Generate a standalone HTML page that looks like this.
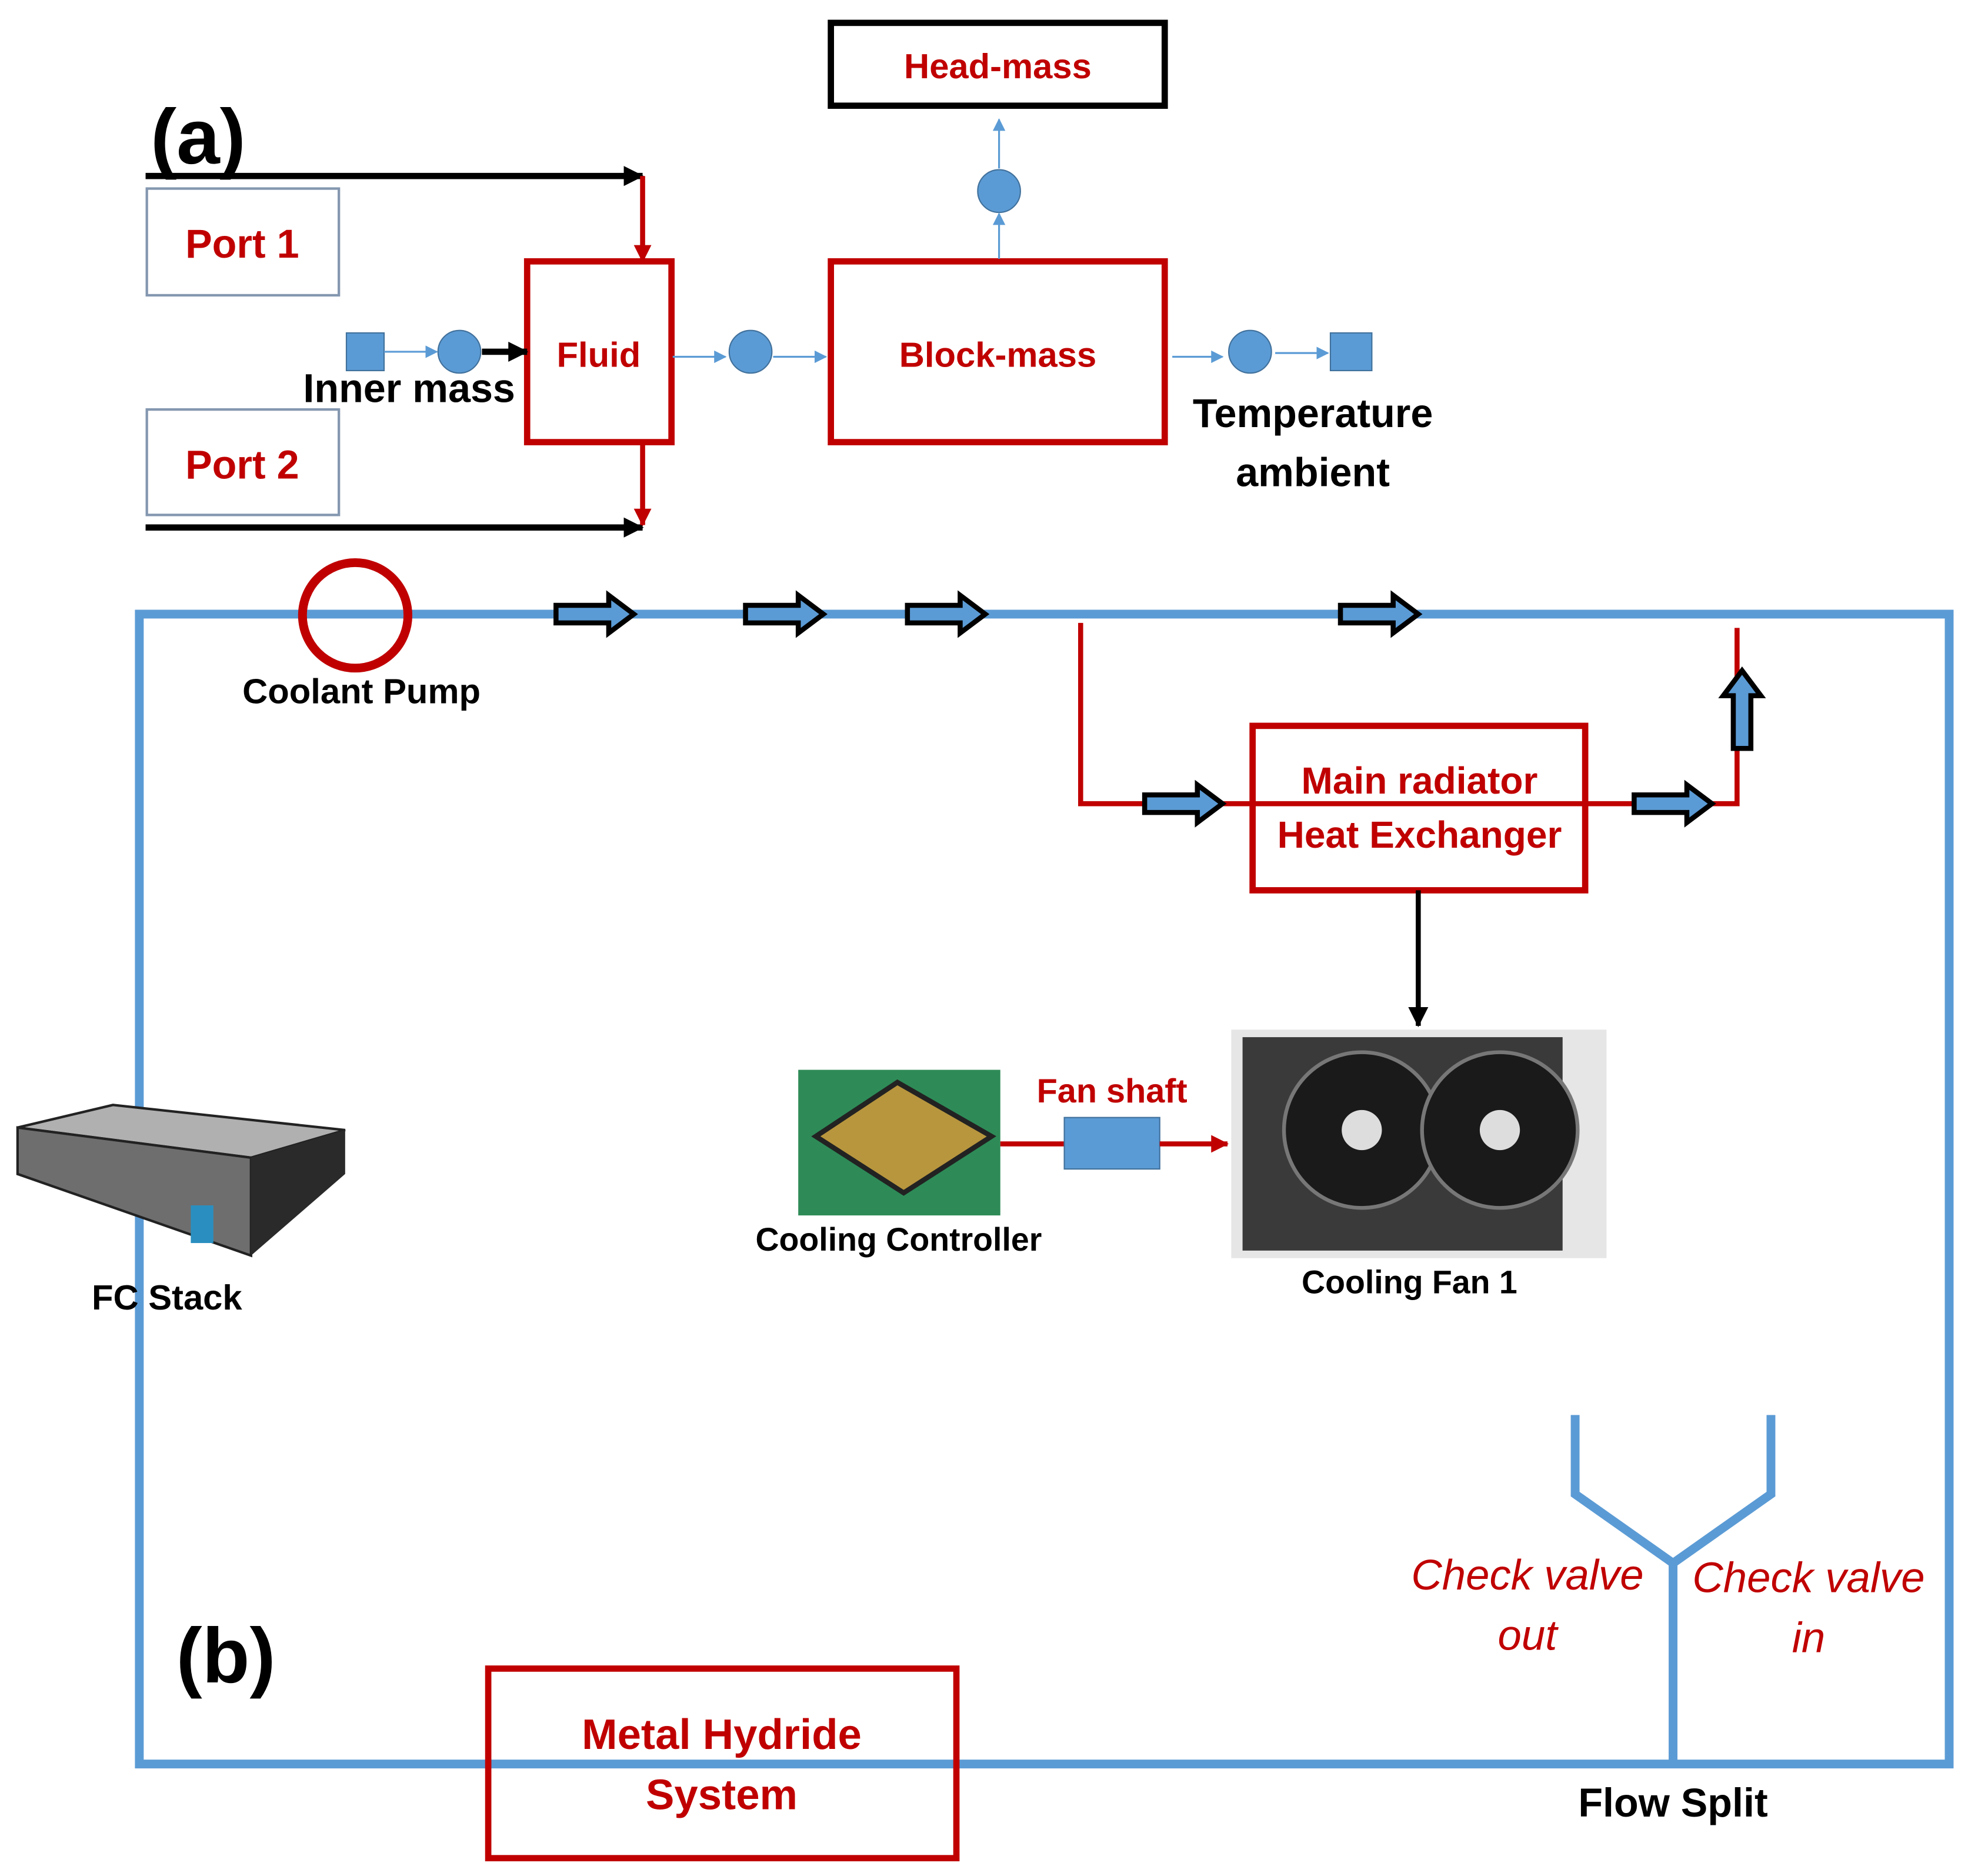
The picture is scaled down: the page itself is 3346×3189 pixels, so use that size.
<!DOCTYPE html>
<html><head><meta charset="utf-8"><style>html,body{margin:0;padding:0;background:#fff}svg{display:block}</style></head>
<body>
<svg xmlns="http://www.w3.org/2000/svg" width="3346" height="3189" viewBox="0 0 1568 1494" font-family="Liberation Sans, sans-serif">
<defs>
<marker id="ar" markerWidth="14" markerHeight="14" refX="13" refY="7" orient="auto" markerUnits="userSpaceOnUse"><path d="M0,0 L14,7 L0,14 z" fill="#c00000"/></marker>
<marker id="al" markerWidth="10" markerHeight="10" refX="9" refY="5" orient="auto" markerUnits="userSpaceOnUse"><path d="M0,0 L10,5 L0,10 z" fill="#5b9bd5"/></marker>
<marker id="ak" markerWidth="16" markerHeight="16" refX="15" refY="8" orient="auto" markerUnits="userSpaceOnUse"><path d="M0,0 L16,8 L0,16 z" fill="#000"/></marker>
<g id="barrow"><path d="M0,-7 L42,-7 L42,-15 L62,0 L42,15 L42,7 L0,7 z" fill="#5b9bd5" stroke="#000" stroke-width="4" stroke-linejoin="miter"/></g>
</defs>
<rect width="1568" height="1494" fill="#fff"/>
<rect x="662" y="18" width="266" height="66" fill="none" stroke="#000" stroke-width="5"/>
<text x="795" y="62" text-anchor="middle" font-size="28" font-weight="bold" fill="#c00000">Head-mass</text>
<text x="120" y="130" font-size="62" font-weight="bold">(a)</text>
<line x1="116" y1="140" x2="512" y2="140" stroke="#000" stroke-width="5" marker-end="url(#ak)"/>
<line x1="512" y1="140" x2="512" y2="208" stroke="#c00000" stroke-width="4" marker-end="url(#ar)"/>
<rect x="117" y="150" width="153" height="85" fill="none" stroke="#8497b0" stroke-width="2"/>
<text x="193" y="205" text-anchor="middle" font-size="32" font-weight="bold" fill="#c00000">Port 1</text>
<rect x="117" y="326" width="153" height="84" fill="none" stroke="#8497b0" stroke-width="2"/>
<text x="193" y="381" text-anchor="middle" font-size="32" font-weight="bold" fill="#c00000">Port 2</text>
<line x1="116" y1="420" x2="512" y2="420" stroke="#000" stroke-width="5" marker-end="url(#ak)"/>
<line x1="512" y1="352" x2="512" y2="418" stroke="#c00000" stroke-width="4" marker-end="url(#ar)"/>
<rect x="420" y="208" width="115" height="144" fill="none" stroke="#c00000" stroke-width="5"/>
<text x="477" y="292" text-anchor="middle" font-size="28" font-weight="bold" fill="#c00000">Fluid</text>
<rect x="276" y="265" width="30" height="30" fill="#5b9bd5" stroke="#41719c"/>
<line x1="306" y1="280" x2="348" y2="280" stroke="#5b9bd5" stroke-width="1.5" marker-end="url(#al)"/>
<circle cx="366" cy="280" r="17" fill="#5b9bd5" stroke="#41719c"/>
<line x1="384" y1="280" x2="420" y2="280" stroke="#000" stroke-width="5" marker-end="url(#ak)"/>
<text x="326" y="320" text-anchor="middle" font-size="32" font-weight="bold">Inner mass</text>
<line x1="536" y1="284" x2="578" y2="284" stroke="#5b9bd5" stroke-width="1.5" marker-end="url(#al)"/>
<circle cx="598" cy="280" r="17" fill="#5b9bd5" stroke="#41719c"/>
<line x1="616" y1="284" x2="658" y2="284" stroke="#5b9bd5" stroke-width="1.5" marker-end="url(#al)"/>
<rect x="662" y="208" width="266" height="144" fill="none" stroke="#c00000" stroke-width="5"/>
<text x="795" y="292" text-anchor="middle" font-size="28" font-weight="bold" fill="#c00000">Block-mass</text>
<circle cx="796" cy="152" r="17" fill="#5b9bd5" stroke="#41719c"/>
<line x1="796" y1="206" x2="796" y2="170" stroke="#5b9bd5" stroke-width="1.5" marker-end="url(#al)"/>
<line x1="796" y1="134" x2="796" y2="95" stroke="#5b9bd5" stroke-width="1.5" marker-end="url(#al)"/>
<line x1="934" y1="284" x2="974" y2="284" stroke="#5b9bd5" stroke-width="1.5" marker-end="url(#al)"/>
<circle cx="996" cy="280" r="17" fill="#5b9bd5" stroke="#41719c"/>
<line x1="1016" y1="281" x2="1058" y2="281" stroke="#5b9bd5" stroke-width="1.5" marker-end="url(#al)"/>
<rect x="1060" y="265" width="33" height="30" fill="#5b9bd5" stroke="#41719c"/>
<text x="1046" y="340" text-anchor="middle" font-size="32" font-weight="bold">Temperature</text>
<text x="1046" y="387" text-anchor="middle" font-size="32" font-weight="bold">ambient</text>
<rect x="111" y="489" width="1442" height="916" fill="none" stroke="#5b9bd5" stroke-width="7"/>
<circle cx="283" cy="490" r="42" fill="none" stroke="#c00000" stroke-width="7"/>
<text x="288" y="560" text-anchor="middle" font-size="28" font-weight="bold">Coolant Pump</text>
<use href="#barrow" x="443" y="489"/>
<use href="#barrow" x="594" y="489"/>
<use href="#barrow" x="723" y="489"/>
<use href="#barrow" x="1068" y="489"/>
<polyline points="861,496 861,640 998,640" fill="none" stroke="#c00000" stroke-width="4"/>
<use href="#barrow" x="912" y="640"/>
<rect x="998" y="578" width="265" height="131" fill="none" stroke="#c00000" stroke-width="5"/>
<line x1="998" y1="640" x2="1263" y2="640" stroke="#c00000" stroke-width="4"/>
<text x="1131" y="632" text-anchor="middle" font-size="30" font-weight="bold" fill="#c00000">Main radiator</text>
<text x="1131" y="675" text-anchor="middle" font-size="30" font-weight="bold" fill="#c00000">Heat Exchanger</text>
<polyline points="1263,640 1384,640 1384,500" fill="none" stroke="#c00000" stroke-width="4"/>
<use href="#barrow" x="1302" y="640"/>
<use href="#barrow" transform="translate(1388,596) rotate(-90)"/>
<line x1="1130" y1="709" x2="1130" y2="817" stroke="#000" stroke-width="4" marker-end="url(#ak)"/>
<rect x="981" y="820" width="299" height="182" fill="#e6e6e6"/>
<rect x="990" y="826" width="255" height="170" fill="#3a3a3a"/>
<circle cx="1085" cy="900" r="62" fill="#1a1a1a" stroke="#777" stroke-width="3"/>
<circle cx="1195" cy="900" r="62" fill="#1a1a1a" stroke="#777" stroke-width="3"/>
<circle cx="1085" cy="900" r="16" fill="#ddd"/>
<circle cx="1195" cy="900" r="16" fill="#ddd"/>
<rect x="636" y="852" width="161" height="116" fill="#2e8b57"/>
<polygon points="650,905 715,862 790,905 720,950" fill="#b8963e" stroke="#222" stroke-width="4"/>
<line x1="797" y1="911" x2="848" y2="911" stroke="#c00000" stroke-width="4"/>
<rect x="848" y="890" width="76" height="41" fill="#5b9bd5" stroke="#41719c"/>
<line x1="924" y1="911" x2="978" y2="911" stroke="#c00000" stroke-width="4" marker-end="url(#ar)"/>
<text x="886" y="878" text-anchor="middle" font-size="27" font-weight="bold" fill="#c00000">Fan shaft</text>
<text x="716" y="996" text-anchor="middle" font-size="26" font-weight="bold">Cooling Controller</text>
<text x="1123" y="1030" text-anchor="middle" font-size="26" font-weight="bold">Cooling Fan 1</text>
<polygon points="14,898 90,880 275,900 200,922" fill="#b0b0b0" stroke="#222" stroke-width="2"/>
<polygon points="14,898 200,922 200,1000 14,935" fill="#6e6e6e" stroke="#222" stroke-width="2"/>
<polygon points="200,922 275,900 275,935 200,1000" fill="#2a2a2a"/>
<rect x="152" y="960" width="18" height="30" fill="#2a8fc0"/>
<text x="133" y="1043" text-anchor="middle" font-size="28" font-weight="bold">FC Stack</text>
<text x="180" y="1340" text-anchor="middle" font-size="62" font-weight="bold">(b)</text>
<rect x="389" y="1329" width="373" height="151" fill="none" stroke="#c00000" stroke-width="5"/>
<text x="575" y="1393" text-anchor="middle" font-size="34" font-weight="bold" fill="#c00000">Metal Hydride</text>
<text x="575" y="1441" text-anchor="middle" font-size="34" font-weight="bold" fill="#c00000">System</text>
<polyline points="1255,1127 1255,1190 1333,1245 1411,1190 1411,1127" fill="none" stroke="#5b9bd5" stroke-width="7"/>
<line x1="1333" y1="1245" x2="1333" y2="1405" stroke="#5b9bd5" stroke-width="7"/>
<text x="1217" y="1266" text-anchor="middle" font-size="34" font-style="italic" fill="#c00000">Check valve</text>
<text x="1217" y="1314" text-anchor="middle" font-size="34" font-style="italic" fill="#c00000">out</text>
<text x="1441" y="1268" text-anchor="middle" font-size="34" font-style="italic" fill="#c00000">Check valve</text>
<text x="1441" y="1316" text-anchor="middle" font-size="34" font-style="italic" fill="#c00000">in</text>
<text x="1333" y="1447" text-anchor="middle" font-size="32" font-weight="bold">Flow Split</text>
</svg>
</body></html>
